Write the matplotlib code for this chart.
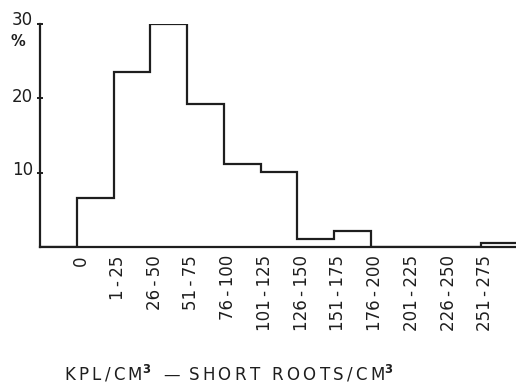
import numpy as np
import matplotlib.pyplot as plt

# bins of short-root density (KPL/cm3) and % of samples
bins = ["0", "1-25", "26-50", "51-75", "76-100", "101-125", "126-150",
        "151-175", "176-200", "201-225", "226-250", "251-275"]
percent = [6.6, 23.5, 30.0, 19.3, 11.1, 10.1, 1.1, 2.1, 0.0, 0.0, 0.0, 0.6]
yticks = [10, 20, 30]

ink = "#1e1e1e"
W, H = 516, 385

fig = plt.figure(figsize=(W / 100, H / 100), dpi=100)
ax = fig.add_axes([40 / W, 1 - 247 / H, 1 - 40 / W, 223 / H])

# leading empty slot before the "0" bin, as in the original
edges = np.arange(-1, len(bins) + 1)
vals = [0.0] + percent
ax.stairs(vals, edges, color=ink, linewidth=1.6, baseline=0)

ax.set_xlim(-1, len(bins) - 0.05)
ax.set_ylim(0, 30)

for s in ["top", "right"]:
    ax.spines[s].set_visible(False)
for s in ["left", "bottom"]:
    ax.spines[s].set_color(ink)
    ax.spines[s].set_linewidth(1.6)

ax.set_yticks(yticks)
ax.set_yticklabels([])
ax.tick_params(axis="y", direction="inout", length=5, width=1.4, color=ink)
ax.set_xticks([])

# y labels, slightly above their ticks like the original lettering
ylab_px = {30: 20, 20: 97, 10: 170}
for v, py in ylab_px.items():
    fig.text(33 / W, 1 - py / H, str(v), ha="right", va="center",
             fontsize=12, color=ink)
fig.text(18 / W, 1 - 42 / H, "%", ha="center", va="center",
         fontsize=10.5, fontweight="bold", color=ink)

thin = "\u2009"
for i, lab in enumerate(bins):
    txt = lab.replace("-", thin + "-" + thin)
    ax.text(i + 0.12, -1.1, txt, rotation=90, ha="center", va="top",
            fontsize=12, color=ink)

sup = r"$^{\mathbf{3}}$"
xlabel = (thin.join("KPL/CM") + sup + thin + " " + thin + "—" + thin + " "
          + thin.join("SHORT ROOTS/CM") + sup)
fig.text(229 / W, 1 - 380 / H, xlabel, ha="center", va="baseline",
         fontsize=12, color=ink)

fig.savefig("out.png", dpi=100)
